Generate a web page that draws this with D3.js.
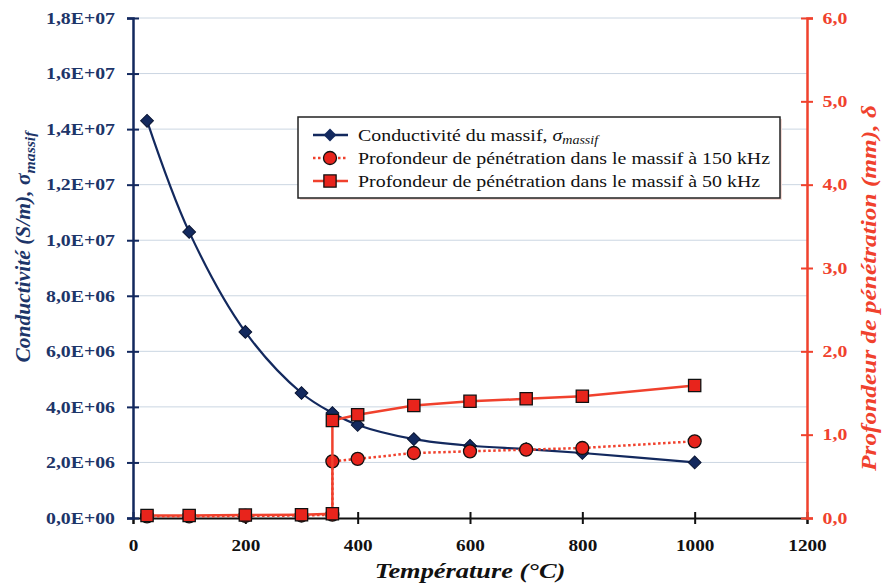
<!DOCTYPE html>
<html>
<head>
<meta charset="utf-8">
<script src="https://cdn.jsdelivr.net/npm/d3@7"></script>
<style>
  body { margin: 0; background: #fff; }
  svg { display: block; font-family: "Liberation Serif", "Times New Roman", serif; }
</style>
</head>
<body>
<div id="chart"></div>
<script>
// Data
const temps = [25, 100, 200, 300, 355, 400, 500, 600, 700, 800, 1000];
const conductivity = [1.43e7, 1.03e7, 6.7e6, 4.5e6, 3.78e6, 3.35e6, 2.84e6, 2.6e6, 2.48e6, 2.34e6, 2.0e6];
const depthTemps = [25, 100, 200, 300, 355, 355, 400, 500, 600, 700, 800, 1000];
const depth150 = [0.02, 0.02, 0.025, 0.03, 0.04, 0.68, 0.71, 0.78, 0.80, 0.82, 0.84, 0.92];
const depth50 = [0.03, 0.03, 0.035, 0.04, 0.05, 1.17, 1.24, 1.35, 1.40, 1.43, 1.46, 1.59];
const xTicks = [0, 200, 400, 600, 800, 1000, 1200];
const yLeftTicks = d3.range(0, 1.8e7 + 1, 2e6);
const yRightTicks = [0, 1, 2, 3, 4, 5, 6];
const legendLabels = [
  "Conductivité du massif, ",
  "Profondeur de pénétration dans le massif à 150 kHz",
  "Profondeur de pénétration dans le massif à 50 kHz"
];

const W = 883, H = 587;
const margin = { top: 18, right: 76, bottom: 69, left: 133 };
const navy = "#13295e", navyText = "#1d3569", red = "#f0412d", gridCol = "#cbd6e2";
const sx = 1.2; // text looks horizontally stretched

const svg = d3.select("#chart").append("svg")
  .attr("width", W).attr("height", H);

const x = d3.scaleLinear().domain([0, 1200]).range([margin.left, W - margin.right]);
const yL = d3.scaleLinear().domain([0, 1.8e7]).range([H - margin.bottom, margin.top]);
const yR = d3.scaleLinear().domain([0, 6]).range([H - margin.bottom, margin.top]);

const fmtL = d => d3.format(".1e")(d).replace(".", ",").replace(/e([+-])(\d)$/, "E$10$2").replace("e", "E");
const fmtR = d => d3.format(".1f")(d).replace(".", ",");

// gridlines
svg.append("g").selectAll("line").data(yLeftTicks.slice(1)).join("line")
  .attr("x1", x(0)).attr("x2", x(1200))
  .attr("y1", d => yL(d)).attr("y2", d => yL(d))
  .attr("stroke", gridCol).attr("stroke-width", 1);

function crossTicks(g, vertical) {
  g.selectAll(".tick line").attr(vertical ? "x1" : "y1", -6).attr(vertical ? "x2" : "y2", 6);
  g.selectAll(".tick text").attr("transform", `scale(${sx},1)`);
}

// bottom axis
const gx = svg.append("g")
  .attr("transform", `translate(0,${H - margin.bottom})`)
  .call(d3.axisBottom(x).tickValues(xTicks).tickSize(6).tickPadding(16).tickFormat(d3.format("d")))
  .call(g => g.select(".domain").attr("stroke", "#111").attr("stroke-width", 2))
  .call(g => g.selectAll(".tick line").attr("stroke", "#111").attr("stroke-width", 2))
  .call(g => g.selectAll(".tick text").attr("fill", "#111").attr("font-size", 16).attr("font-weight", "bold").attr("font-family", "Liberation Serif"));
crossTicks(gx, false);

// left axis
const gl = svg.append("g")
  .attr("transform", `translate(${margin.left},0)`)
  .call(d3.axisLeft(yL).tickValues(yLeftTicks).tickSize(6).tickPadding(9).tickFormat(fmtL))
  .call(g => g.select(".domain").attr("stroke", navy).attr("stroke-width", 2.5))
  .call(g => g.selectAll(".tick line").attr("stroke", navy).attr("stroke-width", 2))
  .call(g => g.selectAll(".tick text").attr("fill", navyText).attr("font-size", 16.5).attr("font-weight", "bold").attr("font-family", "Liberation Serif"));
crossTicks(gl, true);

// right axis
const gr = svg.append("g")
  .attr("transform", `translate(${W - margin.right},0)`)
  .call(d3.axisRight(yR).tickValues(yRightTicks).tickSize(6).tickPadding(7).tickFormat(fmtR))
  .call(g => g.select(".domain").attr("stroke", red).attr("stroke-width", 2.5))
  .call(g => g.selectAll(".tick line").attr("stroke", red).attr("stroke-width", 2))
  .call(g => g.selectAll(".tick text").attr("fill", red).attr("font-size", 16.5).attr("font-weight", "bold").attr("font-family", "Liberation Serif"));
crossTicks(gr, true);

// axis titles
svg.append("text")
  .attr("transform", `translate(470,578) scale(${sx},1)`)
  .attr("text-anchor", "middle").attr("font-size", 22)
  .attr("font-weight", "bold").attr("font-style", "italic").attr("fill", "#111")
  .text("Température (°C)");

const lt = svg.append("text")
  .attr("transform", `translate(30,247) rotate(-90) scale(1.05,1)`)
  .attr("text-anchor", "middle").attr("font-size", 20.5)
  .attr("font-weight", "bold").attr("font-style", "italic").attr("fill", navyText);
lt.append("tspan").text("Conductivité (S/m), σ");
lt.append("tspan").attr("font-size", 15).attr("dy", 5).text("massif");

svg.append("text")
  .attr("transform", `translate(876,288) rotate(-90) scale(1.18,1)`)
  .attr("text-anchor", "middle").attr("font-size", 21.5)
  .attr("font-weight", "bold").attr("font-style", "italic").attr("fill", red)
  .text("Profondeur de pénétration (mm), δ");

// series
const seriesCond = temps.map((t, i) => [t, conductivity[i]]);
const series150 = depthTemps.map((t, i) => [t, depth150[i]]);
const series50 = depthTemps.map((t, i) => [t, depth50[i]]);

const diamond = d3.symbol().type(d3.symbolSquare).size(82);
const square = d3.symbol().type(d3.symbolSquare).size(150);

svg.append("path").datum(seriesCond)
  .attr("fill", "none").attr("stroke", navy).attr("stroke-width", 2.2)
  .attr("d", d3.line().x(d => x(d[0])).y(d => yL(d[1])).curve(d3.curveCatmullRom));
svg.append("g").selectAll("path").data(seriesCond).join("path")
  .attr("transform", d => `translate(${x(d[0])},${yL(d[1])}) rotate(45)`)
  .attr("d", diamond).attr("fill", navy).attr("stroke", "#0a1533").attr("stroke-width", 1);

svg.append("path").datum(series150)
  .attr("fill", "none").attr("stroke", red).attr("stroke-width", 2.5).attr("stroke-dasharray", "2.5,2.5")
  .attr("d", d3.line().x(d => x(d[0])).y(d => yR(d[1])));
svg.append("g").selectAll("circle").data(series150).join("circle")
  .attr("cx", d => x(d[0])).attr("cy", d => yR(d[1])).attr("r", 6.5)
  .attr("fill", "#e8241c").attr("stroke", "#111").attr("stroke-width", 1.3);

svg.append("path").datum(series50)
  .attr("fill", "none").attr("stroke", red).attr("stroke-width", 2.5)
  .attr("d", d3.line().x(d => x(d[0])).y(d => yR(d[1])));
svg.append("g").selectAll("path").data(series50).join("path")
  .attr("transform", d => `translate(${x(d[0])},${yR(d[1])})`)
  .attr("d", square).attr("fill", "#e8241c").attr("stroke", "#111").attr("stroke-width", 1.3);

// legend
const lg = svg.append("g").attr("transform", "translate(298,117)");
lg.append("rect").attr("x", 2).attr("y", 2).attr("width", 482).attr("height", 81).attr("fill", "#f3d9d4");
lg.append("rect").attr("width", 482).attr("height", 81).attr("fill", "#fff").attr("stroke", "#222").attr("stroke-width", 1.5);

const rowY = [18, 41, 64];
lg.append("line").attr("x1", 15).attr("x2", 50).attr("y1", rowY[0]).attr("y2", rowY[0]).attr("stroke", navy).attr("stroke-width", 2.5);
lg.append("path").attr("transform", `translate(32,${rowY[0]}) rotate(45)`).attr("d", diamond).attr("fill", navy);
lg.append("line").attr("x1", 15).attr("x2", 50).attr("y1", rowY[1]).attr("y2", rowY[1]).attr("stroke", red).attr("stroke-width", 2.5).attr("stroke-dasharray", "2.5,2.5");
lg.append("circle").attr("cx", 32).attr("cy", rowY[1]).attr("r", 6.5).attr("fill", "#e8241c").attr("stroke", "#111").attr("stroke-width", 1.3);
lg.append("line").attr("x1", 15).attr("x2", 50).attr("y1", rowY[2]).attr("y2", rowY[2]).attr("stroke", red).attr("stroke-width", 2.5);
lg.append("path").attr("transform", `translate(32,${rowY[2]})`).attr("d", square).attr("fill", "#e8241c").attr("stroke", "#111").attr("stroke-width", 1.3);

legendLabels.forEach((t, i) => {
  const tx = lg.append("text")
    .attr("transform", `translate(60,${rowY[i] + 5.5}) scale(1.17,1)`)
    .attr("font-size", 17).attr("fill", "#111").text(t);
  if (i === 0) {
    tx.append("tspan").attr("font-style", "italic").text("σ");
    tx.append("tspan").attr("font-style", "italic").attr("font-size", 12).attr("dy", 3).text("massif");
  }
});
</script>
</body>
</html>
